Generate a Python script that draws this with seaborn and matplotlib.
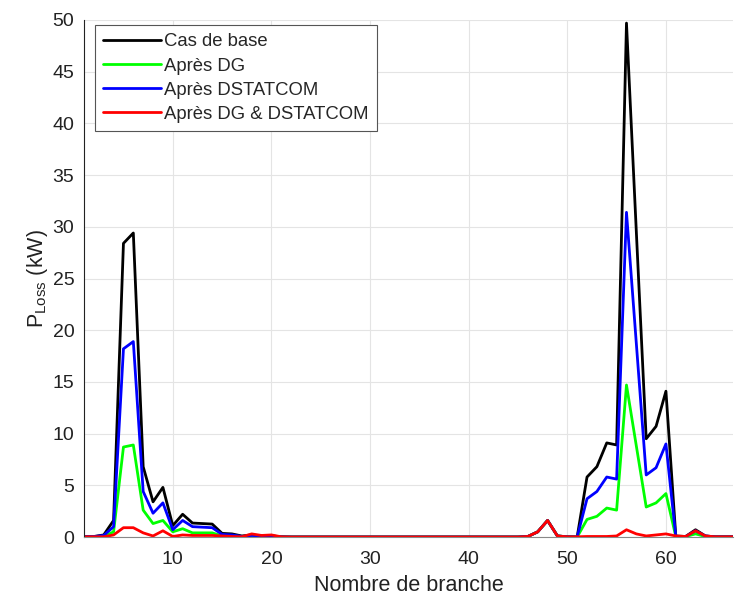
import numpy as np
import pandas as pd
import matplotlib
matplotlib.use("Agg")
import matplotlib.pyplot as plt
import seaborn as sns
from matplotlib.lines import Line2D

branches = list(range(1, 69))

base = [0.05, 0.05, 0.2, 1.6, 28.4, 29.4, 6.8, 3.4, 4.8, 1.1,
        2.2, 1.35, 1.3, 1.25, 0.35, 0.3, 0.1, 0.2, 0.1, 0.1,
        0.02, 0, 0, 0, 0, 0, 0, 0, 0, 0,
        0, 0, 0, 0, 0, 0, 0, 0, 0, 0,
        0, 0, 0, 0, 0, 0.05, 0.5, 1.6, 0.1, 0.02,
        0.0, 5.8, 6.8, 9.1, 8.9, 49.7, 29.5, 9.5, 10.7, 14.1,
        0.1, 0.05, 0.7, 0.1, 0.02, 0.02, 0.02, 0.02]

dg = [0.02, 0.02, 0.05, 0.5, 8.7, 8.9, 2.6, 1.3, 1.6, 0.5,
      0.8, 0.4, 0.4, 0.4, 0.1, 0.1, 0.05, 0.05, 0.05, 0.05,
      0.02, 0, 0, 0, 0, 0, 0, 0, 0, 0,
      0, 0, 0, 0, 0, 0, 0, 0, 0, 0,
      0, 0, 0, 0, 0, 0.05, 0.5, 1.6, 0.1, 0.02,
      0.0, 1.7, 2.0, 2.8, 2.6, 14.7, 8.8, 2.9, 3.3, 4.2,
      0.05, 0.05, 0.3, 0.05, 0.02, 0.02, 0.02, 0.02]

dstatcom = [0.04, 0.04, 0.15, 1.0, 18.2, 18.9, 4.4, 2.3, 3.3, 0.7,
            1.6, 1.0, 0.95, 0.9, 0.25, 0.2, 0.05, 0.15, 0.1, 0.1,
            0.02, 0, 0, 0, 0, 0, 0, 0, 0, 0,
            0, 0, 0, 0, 0, 0, 0, 0, 0, 0,
            0, 0, 0, 0, 0, 0.05, 0.5, 1.6, 0.1, 0.02,
            0.0, 3.7, 4.4, 5.8, 5.6, 31.4, 18.7, 6.0, 6.7, 9.0,
            0.05, 0.05, 0.6, 0.1, 0.02, 0.02, 0.02, 0.02]

dg_dstatcom = [0.02, 0.02, 0.02, 0.2, 0.9, 0.9, 0.4, 0.1, 0.6, 0.05,
               0.2, 0.15, 0.15, 0.15, 0.1, 0.05, 0.02, 0.3, 0.15, 0.2,
               0.02, 0, 0, 0, 0, 0, 0, 0, 0, 0,
               0, 0, 0, 0, 0, 0, 0, 0, 0, 0,
               0, 0, 0, 0, 0, 0.05, 0.5, 1.6, 0.1, 0.02,
               0.02, 0.05, 0.05, 0.05, 0.1, 0.7, 0.3, 0.1, 0.2, 0.3,
               0.1, 0.05, 0.6, 0.1, 0.02, 0.02, 0.02, 0.02]

series_names = ["Cas de base", "Après DG", "Après DSTATCOM", "Après DG & DSTATCOM"]
series_values = [base, dg, dstatcom, dg_dstatcom]
colors = ["#000000", "#00ff00", "#0000ff", "#ff0000"]

x_ticks = [10, 20, 30, 40, 50, 60]
y_ticks = [0, 5, 10, 15, 20, 25, 30, 35, 40, 45, 50]

df = pd.concat([
    pd.DataFrame({"branche": branches, "ploss": vals, "cas": name})
    for name, vals in zip(series_names, series_values)
], ignore_index=True)

sns.set_style("white")
plt.rcParams["font.family"] = ["Liberation Sans", "DejaVu Sans"]

fig = plt.figure(figsize=(7.35, 5.99), dpi=100)
ax = fig.add_axes([84 / 735, 62 / 599, (733 - 84) / 735, (537 - 20) / 599])

sns.lineplot(data=df, x="branche", y="ploss", hue="cas", hue_order=series_names,
             palette=dict(zip(series_names, colors)), linewidth=2.0, ax=ax,
             legend=False, sort=False)

ax.set_xlim(1, 66.8)
ax.set_ylim(0, 50)
ax.set_xticks(x_ticks)
ax.set_yticks(y_ticks)
ax.tick_params(axis="both", direction="in", length=5, width=0.8, colors="#222222",
               labelsize=14, labelcolor="#222222")
ax.tick_params(axis="x", pad=10)
ax.tick_params(axis="y", pad=7)
ax.grid(True, color="#e4e4e4", linewidth=0.8)
ax.set_axisbelow(True)
for s in ["top", "right"]:
    ax.spines[s].set_visible(False)
ax.spines["left"].set_color("#222222")
ax.spines["bottom"].set_color("#888888")
ax.set_xlabel("Nombre de branche", fontsize=15.5, color="#222222", labelpad=5)
ax.set_ylabel(r"P$_\mathregular{Loss}$ (kW)", fontsize=15.5, color="#222222", labelpad=2)

handles = [Line2D([0], [0], color=c, lw=2) for c in colors]
leg = ax.legend(handles, series_names, loc="upper left", bbox_to_anchor=(0.017, 0.99),
                fontsize=13.3, frameon=True, fancybox=False, framealpha=1,
                edgecolor="#555555", handlelength=3.1, handletextpad=0.2,
                labelspacing=0.38, borderpad=0.45, borderaxespad=0)
leg.get_frame().set_linewidth(0.8)

fig.savefig("out.png", dpi=100)
